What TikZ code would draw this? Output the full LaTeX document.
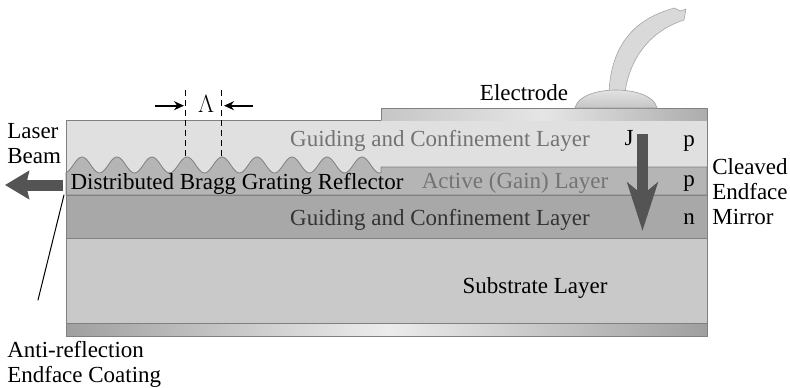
\documentclass[tikz,border=0pt]{standalone}
\usepackage{fontspec}
\setmainfont{Liberation Serif}
\usetikzlibrary{arrows.meta}
\definecolor{cladtop}{gray}{0.88}
\definecolor{gaingray}{gray}{0.71}
\definecolor{cladlow}{gray}{0.66}
\definecolor{subgray}{gray}{0.79}
\definecolor{edgegray}{gray}{0.5}
\definecolor{inkgray}{gray}{0.45}
\definecolor{beamgray}{gray}{0.33}
\tikzset{
  layer/.style={draw=edgegray,line width=.8pt},
  lbl/.style={inner sep=0pt,anchor=base},
  faint/.style={lbl,text=inkgray},
  fatarrow/.style={line width=11pt,line cap=butt,draw=beamgray},
  period/.style={line width=2pt,line cap=butt,-{Stealth[length=10pt,width=9pt]}}
}
\begin{document}
\begin{tikzpicture}[x=1pt,y=-1pt,line join=round,line cap=round,line width=.6pt,font=\fontsize{23}{25}\selectfont]
\useasboundingbox (0,0) rectangle (790,388);
\fill[cladtop] (66,120) rectangle (707,195);
\filldraw[layer,fill=gaingray] (66,195) -- plot[domain=66:381,samples=180] (\x,{165-8*cos(((\x-82)/35)*360)}) -- (381,167) -- (707,167) -- (707,195) -- cycle;
\draw[layer] (66,120) rectangle (707,195);
\filldraw[layer,fill=cladlow] (66,195) rectangle (707,238);
\filldraw[layer,fill=subgray] (66,238) rectangle (707,323);
\shade[left color=gray!75,right color=gray!75,middle color=gray!15] (66,323) rectangle (707,336);
\draw[layer] (66,323) rectangle (707,336);
\shade[left color=gray!45,right color=gray!65,middle color=gray!20] (381,108) rectangle (707,120);
\draw[layer] (381,120) -- (381,108) -- (707,108) -- (707,120);
\filldraw[draw=gray!70,fill=gray!30] (609,92) .. controls (611,52) and (628,24) .. (665,11) -- (674,8) -- (681,11) -- (686,9) -- (684,20) .. controls (650,31) and (630,58) .. (625,92);
\shade[draw=gray!75,top color=gray!15,bottom color=gray!45] (575,108) .. controls (580,84) and (652,84) .. (657,108) -- cycle;
% texts
\node[lbl] (electrode) at (524,100) {Electrode};
\node[faint] (cladT) at (440,146) {Guiding and Confinement Layer};
\node[faint] (gain) at (515,188) {Active (Gain) Layer};
\node[lbl] (dbr) at (237,189) {Distributed Bragg Grating Reflector};
\node[faint,text=gray!40!black] (cladB) at (440,225) {Guiding and Confinement Layer};
\node[lbl] (sub) at (535,293) {Substrate Layer};
\node[lbl] (J) at (629,145) {J};
\node[lbl] (p1) at (689,146) {p};
\node[lbl] (p2) at (689,186) {p};
\node[lbl] (n) at (689,224) {n};
\node[lbl] (lam) at (206,112) {$\Lambda$};
\node[lbl,anchor=base west,align=left] (beam) at (7,163) {Laser\\Beam};
\node[lbl,anchor=base west,align=left] (mirror) at (712,224) {Cleaved\\Endface\\Mirror};
\node[lbl,anchor=base west,align=left] (coating) at (7,382) {Anti-reflection\\Endface Coating};
% arrows
\coordinate (jtop) at (642.5,134);
\coordinate (jtip) at (642.5,231);
\draw[fatarrow,-{Stealth[length=48pt,width=30pt,inset=12pt]}] (jtop) -- (jtip);
\coordinate (out) at (63,185);
\coordinate (outtip) at (5,185);
\draw[fatarrow,-{Stealth[length=24pt,width=28pt,inset=3pt]}] (out) -- (outtip);
\coordinate (g1) at (185.7,157);
\coordinate (g2) at (221.7,157);
\draw[line width=1.4pt,line cap=butt,dash pattern=on 6pt off 4pt] (185.7,90) -- (g1) (221.7,90) -- (g2);
\draw[period] (155,105.7) -- (184,105.7);
\draw[period] (253,105.7) -- (224,105.7);
\coordinate (ar) at (64,195);
\draw[line width=1pt] (ar) -- (38,300);
\end{tikzpicture}
\end{document}
